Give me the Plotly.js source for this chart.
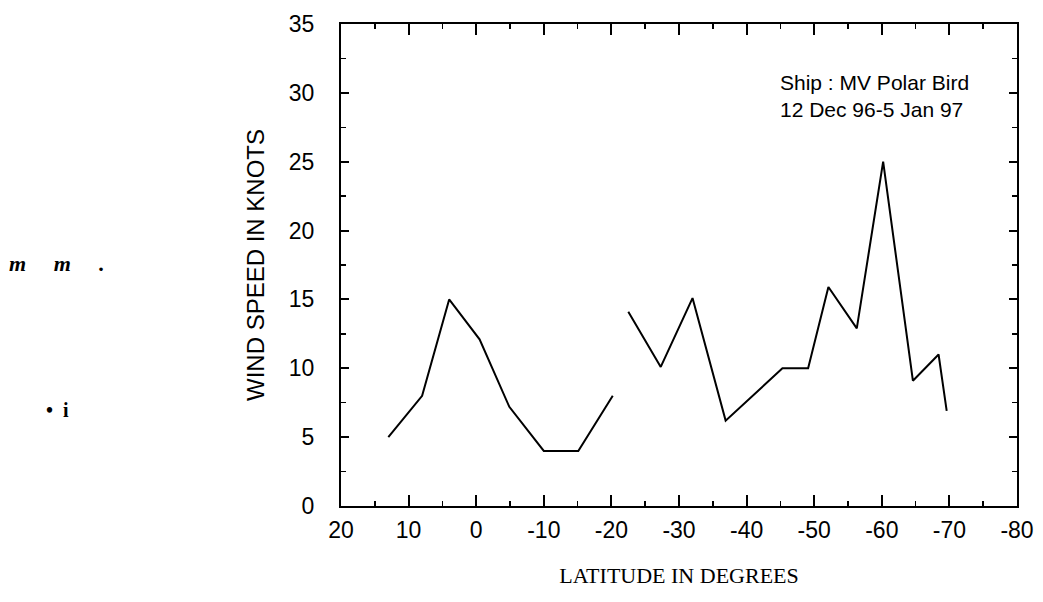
<!DOCTYPE html>
<html>
<head>
<meta charset="utf-8">
<script src="https://cdn.plot.ly/plotly-3.0.1.min.js"></script>
<style>html,body{margin:0;padding:0;background:#fff;}#chart{width:1043px;height:602px;}</style>
</head>
<body>
<div id="chart"></div>
<script>
// Latitude (degrees) and wind speed (knots), first leg
const lat1 = [13, 8, 4, -0.5, -4.9, -10, -15.1, -20.2];
const wind1 = [5, 8, 15, 12.1, 7.2, 4, 4, 8];
// second leg
const lat2 = [-22.5, -27.3, -32, -36.9, -45.3, -49.1, -52.1, -56.3, -60.2, -64.6, -68.4, -69.6];
const wind2 = [14.1, 10.1, 15.1, 6.2, 10, 10, 15.9, 12.9, 25, 9.1, 11, 6.9];
const xTicks = [20, 10, 0, -10, -20, -30, -40, -50, -60, -70, -80];
const yTicks = [0, 5, 10, 15, 20, 25, 30, 35];
const noteLines = ["Ship : MV Polar Bird", "12 Dec 96-5 Jan 97"];

const sans = "Liberation Sans, Arial, sans-serif";
const serif = "Liberation Serif, Times New Roman, serif";
const lineStyle = {color: "#000", width: 2};

const traces = [
  {x: lat1, y: wind1, type: "scatter", mode: "lines", line: lineStyle, hoverinfo: "x+y"},
  {x: lat2, y: wind2, type: "scatter", mode: "lines", line: lineStyle, hoverinfo: "x+y"}
];

const layout = {
  width: 1043, height: 602,
  margin: {l: 341, r: 26, t: 24, b: 96},
  paper_bgcolor: "#fff", plot_bgcolor: "#fff",
  showlegend: false,
  font: {family: sans, color: "#000", size: 23},
  xaxis: {
    range: [20, -80], autorange: false,
    tickvals: xTicks, ticktext: xTicks.map(String),
    ticks: "inside", ticklen: 11, tickwidth: 2, tickcolor: "#000",
    minor: {dtick: 5, tick0: 0, ticks: "inside", ticklen: 5, tickwidth: 1.5, tickcolor: "#000"},
    showline: true, linecolor: "#000", linewidth: 2, mirror: "ticks",
    showgrid: false, zeroline: false,
    tickfont: {family: sans, size: 23, color: "#000"},
    ticklabelstandoff: 2,
    title: {text: "LATITUDE IN DEGREES", font: {family: serif, size: 22, color: "#000"}, standoff: 26}
  },
  yaxis: {
    range: [0, 35], autorange: false,
    tickvals: yTicks, ticktext: yTicks.map(String),
    ticks: "inside", ticklen: 8, tickwidth: 2, tickcolor: "#000",
    minor: {dtick: 2.5, tick0: 0, ticks: "inside", ticklen: 5, tickwidth: 1.5, tickcolor: "#000"},
    showline: true, linecolor: "#000", linewidth: 2, mirror: "ticks",
    showgrid: false, zeroline: false,
    tickfont: {family: sans, size: 23, color: "#000"},
    ticklabelstandoff: 20,
    title: {text: "WIND SPEED IN KNOTS", font: {family: sans, size: 24, color: "#000"}, standoff: 17}
  },
  annotations: [
    {xref: "paper", yref: "paper", x: 0.646, y: 0.851, xanchor: "left", yanchor: "middle",
     align: "left", text: noteLines.join("<br>"), showarrow: false,
     font: {family: sans, size: 21, color: "#000"}},
    {xref: "paper", yref: "paper", x: -0.494, y: 0.503, xanchor: "left", yanchor: "middle",
     text: "<b><i>m</i></b>     <b><i>m</i></b>     <b>.</b>", showarrow: false,
     font: {family: serif, size: 22, color: "#000"}},
    {xref: "paper", yref: "paper", x: -0.44, y: 0.2, xanchor: "left", yanchor: "middle",
     text: "<b>•  i</b>", showarrow: false, font: {family: serif, size: 20, color: "#000"}}
  ]
};

Plotly.newPlot("chart", traces, layout, {displayModeBar: false, staticPlot: true});
</script>
</body>
</html>
